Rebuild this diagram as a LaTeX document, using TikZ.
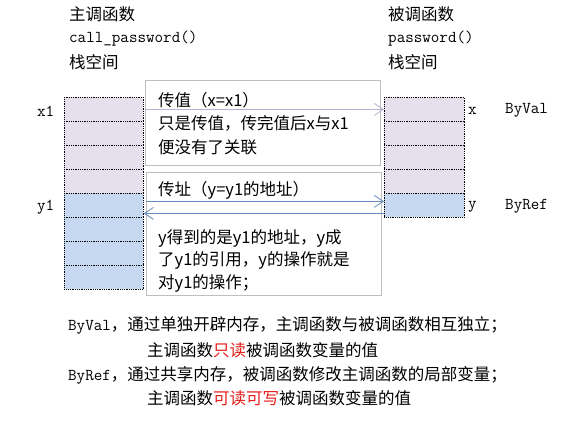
\documentclass[tikz,border=0pt]{standalone}
\usepackage{fontspec}
\setmainfont{Noto Sans CJK SC}
\newfontfamily\cjk{Noto Sans CJK SC}
\newfontfamily\mono{Latin Modern Mono}
\usetikzlibrary{arrows.meta,calc}
\definecolor{cellA}{RGB}{229,224,236}
\definecolor{cellB}{RGB}{198,217,241}
\definecolor{boxline}{RGB}{191,191,191}
\definecolor{arrA}{RGB}{185,178,208}
\definecolor{arrB}{RGB}{100,140,192}
\definecolor{hl}{RGB}{232,28,28}
\tikzset{
  cellbox/.style={draw=black, line width=0.8pt, dash pattern=on 0.9pt off 0.9pt,
    minimum height=24pt, inner sep=0pt, anchor=north west},
  lcell/.style={cellbox, minimum width=79pt},
  rcell/.style={cellbox, minimum width=80pt},
  tbox/.style={draw=boxline, line width=0.8pt, inner sep=0pt, anchor=north west},
  txt/.style={anchor=west, inner sep=0pt, font=\cjk\fontsize{16.5}{18}\selectfont},
  btxt/.style={anchor=west, inner sep=0pt, font=\cjk\fontsize{16.5}{18}\selectfont},
  htxt/.style={anchor=west, inner sep=0pt, font=\cjk\fontsize{16.5}{18}\selectfont},
  mtxt/.style={anchor=west, inner sep=0pt, font=\mono\fontsize{16.6}{18}\selectfont},
  chev/.style={-{Straight Barb[length=9pt,width=12pt,line width=0.8pt]}, line width=0.8pt}
}
\begin{document}
\begin{tikzpicture}[x=1pt,y=-1pt]
\fill[white] (0,0) rectangle (582,433);
\useasboundingbox (0,0) rectangle (582,433);
% headers
\node[htxt] (h1) at (69,14) {主调函数};
\node[mtxt] (h2) at (69,39) {call\_password()};
\node[htxt] (h3) at (69,62) {栈空间};
\node[htxt] (h4) at (388,14) {被调函数};
\node[mtxt] (h5) at (388,39) {password()};
\node[htxt] (h6) at (388,62) {栈空间};
% left stack
\node[lcell, fill=cellA] (L1) at (64,97) {};
\node[lcell, fill=cellA] (L2) at (64,121) {};
\node[lcell, fill=cellA] (L3) at (64,145) {};
\node[lcell, fill=cellA] (L4) at (64,169) {};
\node[lcell, fill=cellB] (L5) at (64,193) {};
\node[lcell, fill=cellB] (L6) at (64,217) {};
\node[lcell, fill=cellB] (L7) at (64,241) {};
\node[lcell, fill=cellB] (L8) at (64,265) {};
% right stack
\node[rcell, fill=cellA] (R1) at (384,97) {};
\node[rcell, fill=cellA] (R2) at (384,121) {};
\node[rcell, fill=cellA] (R3) at (384,145) {};
\node[rcell, fill=cellA] (R4) at (384,169) {};
\node[rcell, fill=cellB] (R5) at (384,193) {};
% labels
\node[mtxt] (lx1) at (37,111) {x1};
\node[mtxt] (ly1) at (37,207) {y1};
\node[mtxt] (lx) at (468,111) {x};
\node[mtxt] (ly) at (468,207) {y};
\node[mtxt] (bv) at (505,110) {ByVal};
\node[mtxt] (br) at (505,206) {ByRef};
% text boxes
\node[tbox, minimum width=235pt, minimum height=85pt] (box1) at (145,80) {};
\node[tbox, minimum width=235pt, minimum height=123pt] (box2) at (146,172) {};
\node[txt] (t1) at (158,100) {传值（x=x1）};
\node[txt] (t2) at (158,123) {只是传值，传完值后x与x1};
\node[txt] (t3) at (158,147) {便没有了关联};
\node[txt] (t4) at (158,190) {传址（y=y1的地址）};
\node[txt] (t5) at (158,238) {y得到的是y1的地址，y成};
\node[txt] (t6) at (158,260) {了y1的引用，y的操作就是};
\node[txt] (t7) at (158,283) {对y1的操作；};
% arrows
\draw[chev, arrA] (box1.west |- L1.east) -- (R1.west);
\draw[chev, arrB] ($(box2.west |- R5.west)+(0,-4)$) -- ($(R5.west)+(0,-4)$);
\draw[chev, arrB] ($(R5.west)+(0,8)$) -- ($(L5.east)+(0,8)$);
% bottom text
\node[btxt] (b1) at (68,325) {{\mono\fontsize{16.6}{18}\selectfont ByVal}，通过单独开辟内存，主调函数与被调函数相互独立；};
\node[btxt] (b2) at (147,350) {主调函数\textcolor{hl}{只读}被调函数变量的值};
\node[btxt] (b3) at (68,375) {{\mono\fontsize{16.6}{18}\selectfont ByRef}，通过共享内存，被调函数修改主调函数的局部变量；};
\node[btxt] (b4) at (147,398) {主调函数\textcolor{hl}{可读可写}被调函数变量的值};
\end{tikzpicture}
\end{document}
